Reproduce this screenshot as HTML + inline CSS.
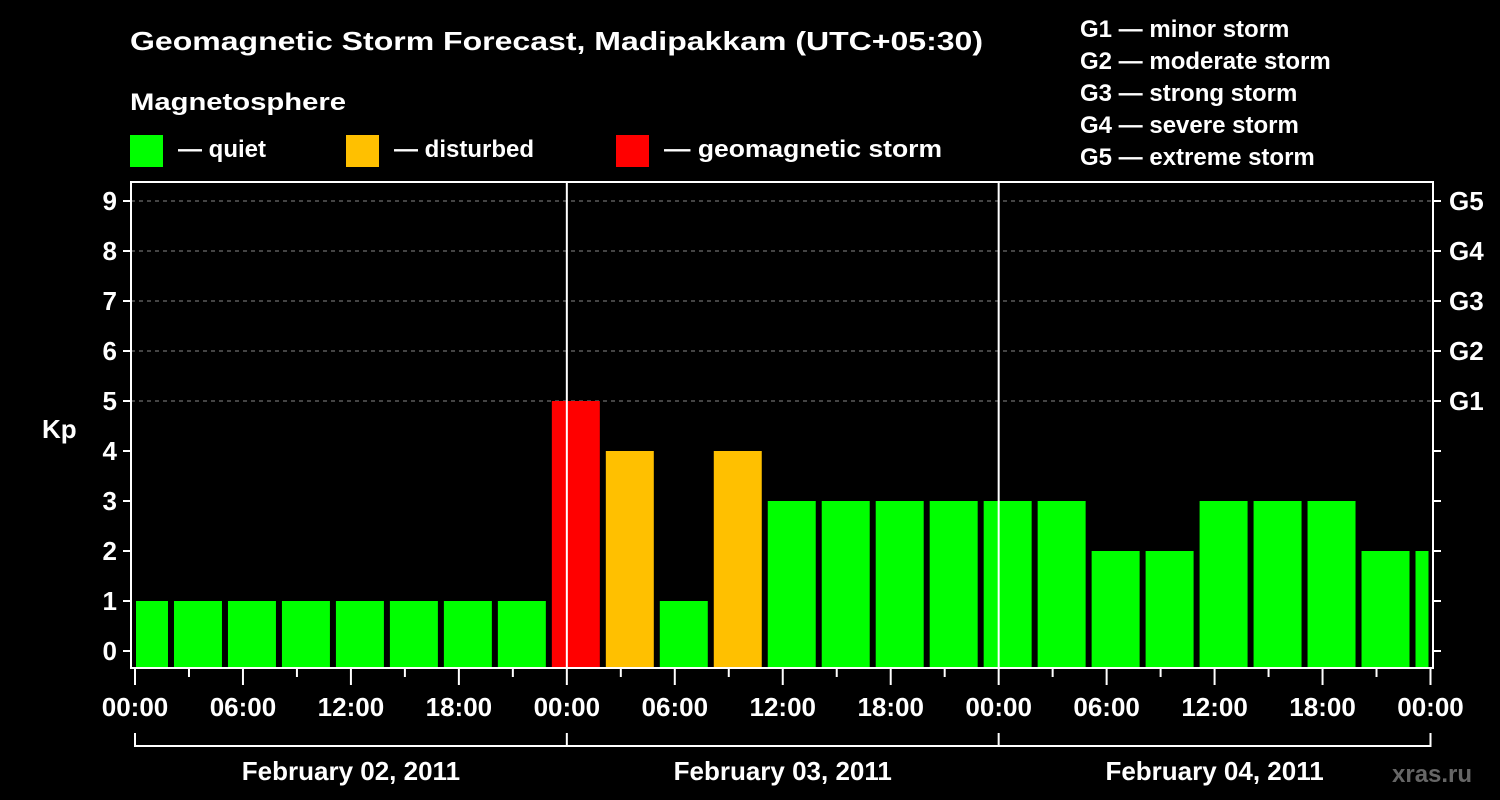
<!DOCTYPE html>
<html><head><meta charset="utf-8"><style>
html,body{margin:0;padding:0;background:#000;}
svg{display:block;font-family:"Liberation Sans",sans-serif;font-weight:bold;}
</style></head><body>
<svg id="chart" width="1500" height="800" viewBox="0 0 1500 800" xmlns="http://www.w3.org/2000/svg">
<rect width="1500" height="800" fill="#000"/>
<text x="130" y="50" fill="#fff" font-size="26" textLength="853" lengthAdjust="spacingAndGlyphs">Geomagnetic Storm Forecast, Madipakkam (UTC+05:30)</text>
<text x="130" y="110" fill="#fff" font-size="24" textLength="216" lengthAdjust="spacingAndGlyphs">Magnetosphere</text>
<g><rect x="130" y="135" width="33" height="32" fill="#00ff00"/><text x="178" y="157" fill="#fff" font-size="24">— quiet</text></g>
<g><rect x="346" y="135" width="33" height="32" fill="#ffc000"/><text x="394" y="157" fill="#fff" font-size="24">— disturbed</text></g>
<g><rect x="616" y="135" width="33" height="32" fill="#ff0000"/><text x="664" y="157" fill="#fff" font-size="24" textLength="278" lengthAdjust="spacingAndGlyphs">— geomagnetic storm</text></g>
<g fill="#fff" font-size="24">
<text x="1080" y="37">G1 — minor storm</text>
<text x="1080" y="69">G2 — moderate storm</text>
<text x="1080" y="101">G3 — strong storm</text>
<text x="1080" y="133">G4 — severe storm</text>
<text x="1080" y="165">G5 — extreme storm</text>
</g>
<text x="42" y="438" fill="#fff" font-size="26">Kp</text>
<g id="grid"></g><g id="bars"></g><g id="axes"></g>
<text x="1392" y="782" fill="#666" font-size="24">xras.ru</text>
</svg>
<script>
const kpValues=[1,1,1,1,1,1,1,1,5,4,1,4,3,3,3,3,3,3,2,2,3,3,3,2,2];
const yTicks=[0,1,2,3,4,5,6,7,8,9];
const gLabels=["G1","G2","G3","G4","G5"];
const xTickLabels=["00:00","06:00","12:00","18:00","00:00","06:00","12:00","18:00","00:00","06:00","12:00","18:00","00:00"];
const dayLabels=["February 02, 2011","February 03, 2011","February 04, 2011"];
const firstIntervalStartHour=-1;
const NS="http://www.w3.org/2000/svg";
const L=131,R=1433,T=182,B=668;
const x=h=>135+h*(1430.5-135)/72;
const y=v=>651-v*50;
function mk(tag,attrs,parent,txt){const e=document.createElementNS(NS,tag);for(const k in attrs)e.setAttribute(k,attrs[k]);if(txt!==undefined)e.textContent=txt;parent.appendChild(e);return e;}
const grid=document.getElementById('grid'),bars=document.getElementById('bars'),axes=document.getElementById('axes');
yTicks.forEach(v=>{if(v>=5){const l=mk('line',{x1:L,x2:R,y1:y(v),y2:y(v),stroke:'#888','stroke-dasharray':'4,4','stroke-width':1},grid);

}});
kpValues.forEach((v,i)=>{const h0=firstIntervalStartHour+i*3;let x0=x(h0)+3,x1=x(h0+3)-3;x0=Math.max(x0,136);x1=Math.min(x1,1428.5);
const c=v>=5?'#ff0000':(v>=4?'#ffc000':'#00ff00');
const r=mk('rect',{x:x0,y:y(v),width:x1-x0,height:B-y(v),fill:c},bars);

});
[24,48].forEach(h=>{const l=mk('line',{x1:x(h),x2:x(h),y1:T,y2:B,stroke:'#fff','stroke-width':2},axes);

});
const fr=mk('rect',{x:L,y:T,width:R-L,height:B-T,fill:'none',stroke:'#fff','stroke-width':2},axes);


yTicks.forEach(v=>{mk('line',{x1:L-8,x2:L,y1:y(v),y2:y(v),stroke:'#fff','stroke-width':2},axes);
mk('line',{x1:R,x2:R+8,y1:y(v),y2:y(v),stroke:'#fff','stroke-width':2},axes);
const t=mk('text',{x:L-14,y:y(v)+9,fill:'#fff','font-size':26,'text-anchor':'end'},axes,String(v));

});
gLabels.forEach((g,i)=>{const t=mk('text',{x:1449,y:y(5+i)+9,fill:'#fff','font-size':26},axes,g);

});
for(let h=0;h<=72;h+=3){const major=h%6===0;mk('line',{x1:x(h),x2:x(h),y1:B,y2:B+(major?17:9),stroke:'#fff','stroke-width':2},axes);}
xTickLabels.forEach((s,i)=>{const t=mk('text',{x:x(i*6),y:716,fill:'#fff','font-size':26,'text-anchor':'middle'},axes,s);

});
const br=mk('path',{d:`M${x(0)},733V746H${x(72)}V733M${x(24)},733V746M${x(48)},733V746`,stroke:'#fff','stroke-width':2,fill:'none'},axes);


dayLabels.forEach((s,i)=>{const t=mk('text',{x:x(i*24+12),y:780,fill:'#fff','font-size':26,'text-anchor':'middle'},axes,s);

});
</script>
</body></html>
